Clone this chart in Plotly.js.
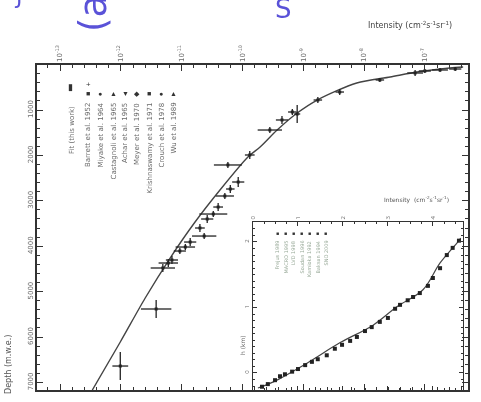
<!DOCTYPE html>
<html><head><meta charset="utf-8">
<script src="https://cdn.plot.ly/plotly-3.0.1.min.js"></script>
<style>html,body{margin:0;padding:0;background:#fff}#c{width:481px;height:402px;filter:blur(0.6px)}</style>
</head><body><div id="c"></div><script>
// main fit curve: log10 intensity vs depth (m.w.e.)
const fitLogI  = [-12.47,-12.01,-11.60,-11.19,-10.78,-10.37,-9.91,-9.71,-9.43,-9.10,-8.77,-8.12,-7.57,-7.13,-6.59,-6.37];
const fitDepth = [7167,6110,5141,4260,3467,2762,2035,1815,1441,1066,780,405,273,163,75,53];
// measured points with error bars
const ptLogI     = [-12.01,-11.42,-11.31,-11.22,-11.16,-11.03,-10.94,-10.86,-10.63,-10.70,-10.58,-10.48,-10.40,-10.29,-10.20,-10.07,-10.24,-9.88,-9.55,-9.35,-9.10,-9.18,-8.76,-8.40,-7.74,-7.16,-7.00,-6.75,-6.50];
const ptDepth    = [6639,5383,4480,4370,4304,4106,4018,3908,3776,3599,3401,3291,3137,2894,2740,2586,2211,1991,1441,1220,1088,1044,780,604,339,185,141,119,97];
const ptErrLogI  = [0.13,0.25,0.20,0.16,0.10,0.10,0.16,0.10,0.20,0.08,0.10,0.23,0.08,0.15,0.07,0.10,0.23,0.08,0.20,0.10,0.05,0.07,0.07,0.07,0.07,0.13,0.10,0.13,0.10];
const ptErrDepth = [308,198,88,88,88,66,66,88,66,88,88,66,88,66,88,110,66,88,66,88,198,66,66,66,44,66,44,44,44];
// inset
const insetFitX = [0.11,0.44,1.20,1.93,2.67,3.20,3.78,4.16,4.53,4.62];
const insetFitY = [-0.23,-0.14,0.15,0.46,0.73,1.01,1.27,1.68,1.98,2.06];
const insetPtX = [0.20,0.33,0.49,0.60,0.71,0.87,1.00,1.16,1.31,1.44,1.64,1.82,1.98,2.16,2.31,2.49,2.64,2.82,3.00,3.16,3.27,3.44,3.56,3.71,3.89,4.00,4.16,4.31,4.44,4.58];
const insetPtY = [-0.21,-0.17,-0.11,-0.05,-0.02,0.02,0.06,0.12,0.17,0.21,0.27,0.37,0.43,0.49,0.55,0.64,0.70,0.78,0.84,0.98,1.04,1.11,1.16,1.22,1.33,1.45,1.60,1.80,1.91,2.02];
// ticks
const xTickVals = [-13,-12,-11,-10,-9,-8,-7];
const xTickText = ['10<sup>-13</sup>','10<sup>-12</sup>','10<sup>-11</sup>','10<sup>-10</sup>','10<sup>-9</sup>','10<sup>-8</sup>','10<sup>-7</sup>'];
const yTickVals = [0,1000,2000,3000,4000,5000,6000,7000];
const insetXTicks = [0,1,2,3,4];
const insetYTicks = [0,1,2];
// legend
const legendLabels = ['Barrett et al. 1952','Miyake et al. 1964','Castagnoli et al. 1965','Achar et al. 1965','Meyer et al. 1970','Krishnaswamy et al. 1971','Crouch et al. 1978','Wu et al. 1989'];
const legendSymbols = ['■','●','▲','▼','◆','■','●','▲'];
const insetLegendLabels = ['Frejus 1989','MACRO 1995','LVD 1998','Soudan 1996','Kamioka 1992','Baksan 1994','SNO 2009'];

const W=481,H=402;
const px = v=>v/W, py = v=>1-v/H;
const ink='#333', txt='#6a6a6a';
const A = o => Object.assign({xref:'paper',yref:'paper',xanchor:'center',yanchor:'middle',showarrow:false},o);

const traces = [
 {x:fitLogI,y:fitDepth,mode:'lines',line:{color:'#444',width:1.4,shape:'spline',smoothing:0.8},xaxis:'x',yaxis:'y',hoverinfo:'skip'},
 {x:ptLogI,y:ptDepth,mode:'markers',marker:{color:'#222',size:3,symbol:'square'},
  error_x:{type:'data',array:ptErrLogI,color:'#222',thickness:1.3,width:0},
  error_y:{type:'data',array:ptErrDepth,color:'#222',thickness:1.3,width:0},xaxis:'x',yaxis:'y'},
 {x:insetFitX,y:insetFitY,mode:'lines',line:{color:'#444',width:1.2,shape:'spline'},xaxis:'x2',yaxis:'y2'},
 {x:insetPtX,y:insetPtY,mode:'markers',marker:{color:'#222',size:4,symbol:'square'},xaxis:'x2',yaxis:'y2'}
];

const ann = [];
// axis titles
ann.push(A({x:px(410),y:py(25),text:'Intensity (cm<sup>-2</sup>s<sup>-1</sup>sr<sup>-1</sup>)',font:{size:8,color:'#444',family:'DejaVu Sans'}}));
ann.push(A({x:px(8),y:py(365),text:'Depth (m.w.e.)',textangle:-90,font:{size:8,color:'#555',family:'DejaVu Sans'}}));
ann.push(A({x:px(416),y:py(200),text:'Intensity  (cm<sup>-2</sup>s<sup>-1</sup>sr<sup>-1</sup>)',font:{size:6,color:'#555',family:'DejaVu Sans'}}));
ann.push(A({x:px(242),y:py(345),text:'h (km)',textangle:-90,font:{size:6,color:'#666',family:'DejaVu Sans'}}));
// main legend
const legX=[88,100,113,125,137,149,161,173];
ann.push(A({x:px(70),y:py(87),text:'▮',font:{size:9,color:ink}}));
ann.push(A({x:px(72),y:py(104),yanchor:'top',text:'Fit (this work)',textangle:-90,font:{size:7,color:txt,family:'DejaVu Sans'}}));
ann.push(A({x:px(88),y:py(83),text:'+',font:{size:8,color:ink}}));
legendLabels.forEach((t,i)=>{
  ann.push(A({x:px(legX[i]),y:py(93),text:legendSymbols[i],font:{size:7,color:ink}}));
  ann.push(A({x:px(legX[i]),y:py(101),yanchor:'top',text:t,textangle:-90,font:{size:7,color:txt,family:'DejaVu Sans'}}));
});
// inset legend
insetLegendLabels.forEach((t,i)=>{
  const xx=277+i*8;
  ann.push(A({x:px(xx),y:py(233),text:'■',font:{size:5,color:ink}}));
  ann.push(A({x:px(xx),y:py(239),yanchor:'top',text:t,textangle:-90,font:{size:5,color:'#9a9',family:'DejaVu Sans'}}));
});
// handwritten purple marks
ann.push(A({x:px(93),y:py(6),text:'(a)',textangle:-90,font:{size:37,color:'#5a52d8',family:'DejaVu Sans'}}));
ann.push(A({x:px(283),y:py(9),text:'S',font:{size:26,color:'#5a52d8',family:'DejaVu Sans'}}));
ann.push(A({x:px(18),y:py(-4),text:'J',font:{size:22,color:'#5a52d8',family:'DejaVu Sans'}}));

const axBase = {showline:true,linecolor:ink,linewidth:1.6,mirror:'allticks',ticks:'inside',tickcolor:ink,zeroline:false,showgrid:false,
  tickfont:{size:7,color:txt,family:'DejaVu Sans'}};

const layout = {
  width:W,height:H,margin:{l:0,r:0,t:0,b:0},paper_bgcolor:'#fff',plot_bgcolor:'rgba(0,0,0,0)',showlegend:false,
  xaxis:Object.assign({},axBase,{domain:[px(37),px(468)],range:[-13.38,-6.29],side:'top',anchor:'y',
    tickmode:'array',tickvals:xTickVals,ticktext:xTickText,tickangle:-90,ticklen:6,
    minor:{ticks:'inside',dtick:0.2,ticklen:3,tickcolor:ink}}),
  yaxis:Object.assign({},axBase,{domain:[py(390),py(65)],range:[7167,9],anchor:'x',
    tickmode:'array',tickvals:yTickVals,ticktext:yTickVals.map(String),tickangle:-90,ticklen:6,
    minor:{ticks:'inside',dtick:200,ticklen:3,tickcolor:ink}}),
  xaxis2:Object.assign({},axBase,{domain:[px(253),px(463)],range:[0,4.67],side:'top',anchor:'y2',
    tickmode:'array',tickvals:insetXTicks,tickangle:-90,ticklen:4,linewidth:1.4,tickfont:{size:6,color:txt},
    minor:{ticks:'inside',dtick:0.25,ticklen:2,tickcolor:ink}}),
  yaxis2:Object.assign({},axBase,{domain:[py(390),py(222)],range:[-0.26,2.305],anchor:'x2',
    tickmode:'array',tickvals:insetYTicks,tickangle:-90,ticklen:4,linewidth:1.4,tickfont:{size:6,color:txt},
    minor:{ticks:'inside',dtick:0.1,ticklen:2,tickcolor:ink}}),
  shapes:[{type:'rect',xref:'paper',yref:'paper',x0:px(253),x1:px(463),y0:py(390),y1:py(222),fillcolor:'#fff',line:{width:0},layer:'below'}],
  annotations:ann
};
Plotly.newPlot('c',traces,layout,{staticPlot:true});
</script></body></html>
